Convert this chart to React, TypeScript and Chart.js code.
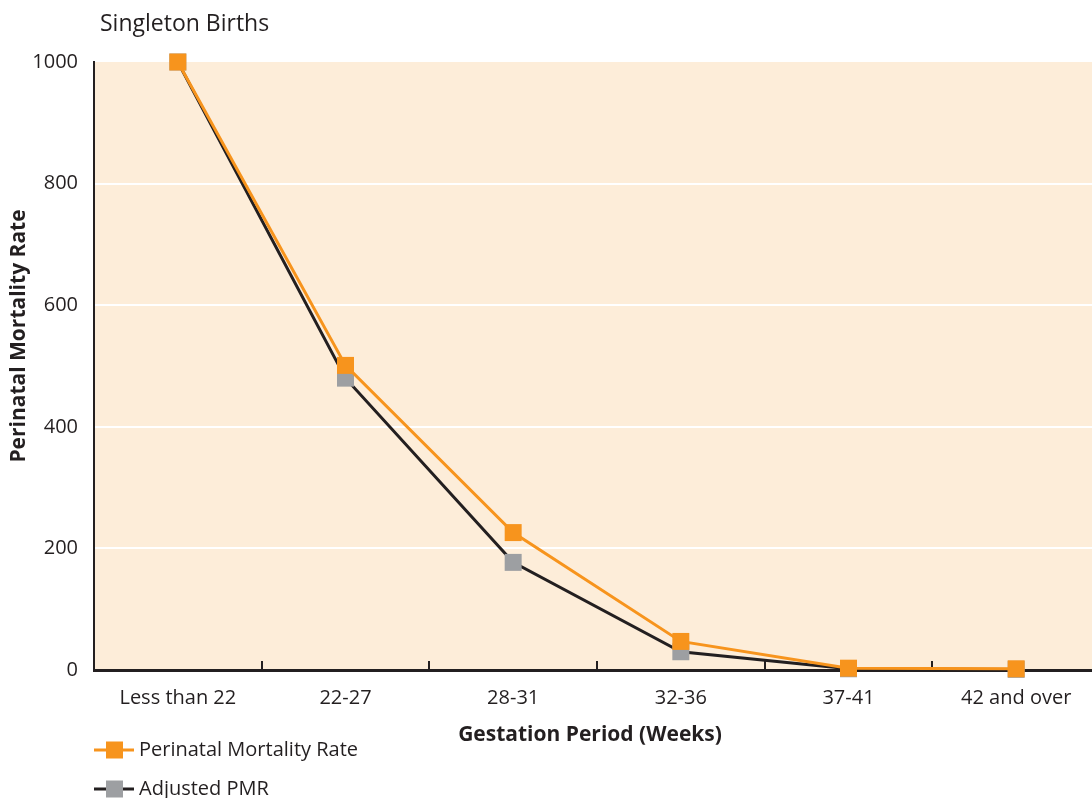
import React, { useEffect, useRef } from "react";
import { Chart, registerables } from "chart.js";

Chart.register(...registerables);

const categories = ["Less than 22", "22-27", "28-31", "32-36", "37-41", "42 and over"];
const perinatalRate = [1000, 501, 226, 47, 3, 2];
const adjustedPMR = [1000, 480, 177, 30, 2, 1];
const yTicks = [0, 200, 400, 600, 800, 1000];

const chartTitle = "Singleton Births";
const xTitle = "Gestation Period (Weeks)";
const yTitle = "Perinatal Mortality Rate";
const seriesNames = ["Perinatal Mortality Rate", "Adjusted PMR"];

const ORANGE = "#F7941D";
const GREY = "#9D9FA2";
const DARK = "#231F20";
const PEACH = "#FDEDD9";
const FONT = "'Open Sans', 'Noto Sans', sans-serif";

const decorPlugin = {
  id: "decor",
  beforeDraw(chart: any) {
    const { ctx, chartArea } = chart;
    ctx.save();
    ctx.fillStyle = PEACH;
    ctx.fillRect(chartArea.left, chartArea.top, chartArea.right - chartArea.left, chartArea.bottom - chartArea.top);
    ctx.restore();
  },
  afterDraw(chart: any) {
    const { ctx } = chart;
    ctx.save();
    ctx.fillStyle = DARK;
    // Title
    ctx.font = `23px ${FONT}`;
    ctx.textAlign = "left";
    ctx.textBaseline = "middle";
    ctx.fillText(chartTitle, 100, 24);
    // X title
    ctx.font = `bold 21px ${FONT}`;
    ctx.textAlign = "center";
    ctx.fillText(xTitle, 590, 735);
    // Y title
    ctx.save();
    ctx.translate(19, 336);
    ctx.rotate(-Math.PI / 2);
    ctx.fillText(yTitle, 0, 0);
    ctx.restore();
    // Legend
    const items = [
      { name: seriesNames[0], line: ORANGE, fill: ORANGE, y: 750 },
      { name: seriesNames[1], line: DARK, fill: GREY, y: 789 },
    ];
    for (const it of items) {
      ctx.strokeStyle = it.line;
      ctx.lineWidth = 3;
      ctx.beginPath();
      ctx.moveTo(94, it.y);
      ctx.lineTo(134, it.y);
      ctx.stroke();
      ctx.fillStyle = it.fill;
      ctx.fillRect(106, it.y - 8.5, 17, 17);
      ctx.fillStyle = DARK;
      ctx.font = `20px ${FONT}`;
      ctx.textAlign = "left";
      ctx.textBaseline = "middle";
      ctx.fillText(it.name, 139, it.y);
    }
    ctx.restore();
  },
};

export default function App() {
  const ref = useRef<HTMLCanvasElement>(null);
  useEffect(() => {
    document.body.style.margin = "0";
    const chart = new Chart(ref.current!, {
      type: "line",
      data: {
        labels: categories,
        datasets: [
          {
            label: seriesNames[0],
            data: perinatalRate,
            borderColor: ORANGE,
            backgroundColor: ORANGE,
            borderWidth: 3,
            pointStyle: "rect",
            pointRadius: 12,
            pointBorderWidth: 0,
            pointBackgroundColor: ORANGE,
            tension: 0,
            clip: false as any,
          },
          {
            label: seriesNames[1],
            data: adjustedPMR,
            borderColor: DARK,
            backgroundColor: GREY,
            borderWidth: 3,
            pointStyle: "rect",
            pointRadius: 12,
            pointBorderWidth: 0,
            pointBackgroundColor: GREY,
            tension: 0,
            clip: false as any,
          },
        ],
      },
      options: {
        responsive: false,
        animation: false,
        layout: { autoPadding: false, padding: { left: 0, top: 62, right: 1, bottom: 0 } },
        plugins: { legend: { display: false }, tooltip: { enabled: false }, title: { display: false } },
        scales: {
          x: {
            type: "category",
            offset: true,
            afterFit(scale: any) {
              scale.height = 128;
              scale.paddingLeft = 0;
              scale.paddingRight = 0;
            },
            grid: {
              offset: true,
              drawOnChartArea: false,
              drawTicks: true,
              tickLength: -9,
              color: DARK,
              lineWidth: 2,
            },
            border: { display: true, color: DARK, width: 3 },
            ticks: {
              color: DARK,
              font: { family: FONT, size: 20 },
              padding: 25,
              maxRotation: 0,
              autoSkip: false,
            },
          },
          y: {
            min: 0,
            max: 1000,
            afterFit(scale: any) {
              scale.width = 94;
              scale.paddingTop = 0;
              scale.paddingBottom = 0;
            },
            afterBuildTicks(scale: any) {
              scale.ticks = yTicks.map((v) => ({ value: v }));
            },
            grid: {
              color: (c: any) => (c.tick && (c.tick.value === 0 || c.tick.value === 1000) ? "rgba(0,0,0,0)" : "#FFFFFF"),
              lineWidth: 2,
              drawTicks: false,
            },
            border: { display: true, color: DARK, width: 2 },
            ticks: {
              color: DARK,
              font: { family: FONT, size: 20 },
              padding: 16,
              callback: (v: any) => String(v),
            },
          },
        },
      },
      plugins: [decorPlugin],
    });
    return () => chart.destroy();
  }, []);
  return (
    <div style={{ width: 1092, height: 798, overflow: "hidden", position: "relative" }}>
      <canvas ref={ref} width={1101} height={798} style={{ display: "block" }} />
    </div>
  );
}
